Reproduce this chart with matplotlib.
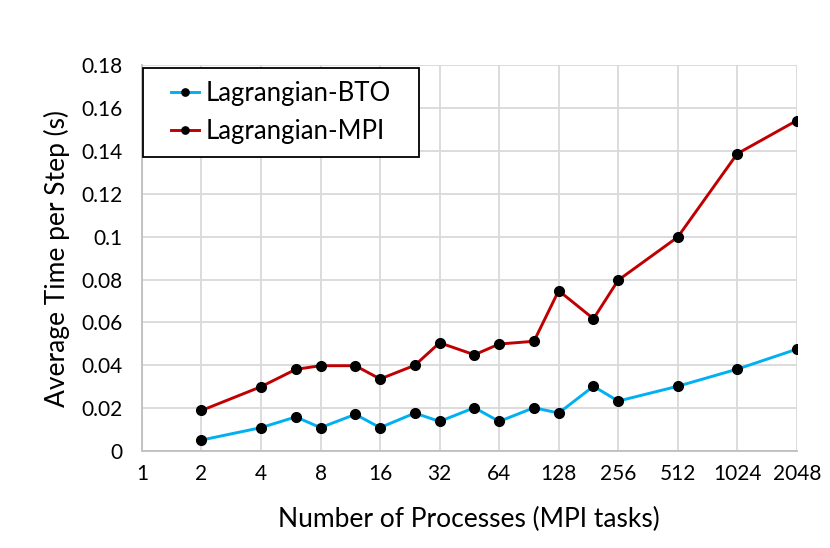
import matplotlib.pyplot as plt
from matplotlib.patches import Rectangle

plt.rcParams['font.family'] = ['Lato', 'DejaVu Sans']

# number of processes and average time per step (s)
procs = [2, 4, 6, 8, 12, 16, 24, 32, 48, 64, 96, 128, 192, 256, 512, 1024, 2048]
bto = [0.0051, 0.0109, 0.0159, 0.0109, 0.0171, 0.0109, 0.0177, 0.0138, 0.0202,
       0.0138, 0.0202, 0.0177, 0.0302, 0.0233, 0.0302, 0.0382, 0.0475]
mpi = [0.0189, 0.0300, 0.0381, 0.0398, 0.0398, 0.0336, 0.0400, 0.0505, 0.0449,
       0.0499, 0.0512, 0.0748, 0.0617, 0.0797, 0.0998, 0.1387, 0.1542]
xticks = [1, 2, 4, 8, 16, 32, 64, 128, 256, 512, 1024, 2048]
yticks = [0, 0.02, 0.04, 0.06, 0.08, 0.1, 0.12, 0.14, 0.16, 0.18]

fig = plt.figure(figsize=(8.3, 5.48), dpi=100)
ax = fig.add_axes([0.171, 0.177, 0.789, 0.704])

ax.plot(procs, bto, color='#00b0f0', lw=2.1, marker='o', ms=7,
        mfc='black', mec='black', label='Lagrangian-BTO', zorder=3)
ax.plot(procs, mpi, color='#c00000', lw=2.1, marker='o', ms=7,
        mfc='black', mec='black', label='Lagrangian-MPI', zorder=3)

ax.set_xscale('log', base=2)
ax.set_xlim(1, 2048)
ax.set_ylim(0, 0.18)
ax.set_xticks(xticks)
ax.set_xticklabels([str(x) for x in xticks])
ax.minorticks_off()
ax.set_yticks(yticks)
ax.set_yticklabels(['0', '0.02', '0.04', '0.06', '0.08', '0.1', '0.12',
                    '0.14', '0.16', '0.18'])
ax.tick_params(length=0, labelsize=15)
ax.tick_params(axis='x', pad=9)
ax.tick_params(axis='y', pad=14)

ax.grid(True, color='#d9d9d9', lw=1.3)
ax.set_axisbelow(True)
for s in ['top', 'right']:
    ax.spines[s].set_visible(False)
for s in ['left', 'bottom']:
    ax.spines[s].set_color('#bfbfbf')
    ax.spines[s].set_linewidth(1.3)

ax.set_xlabel('Number of Processes (MPI tasks)', fontsize=19, labelpad=17)
ax.set_ylabel('Average Time per Step (s)', fontsize=19, labelpad=8)

# legend box drawn separately so it can be wider than the entries
box = Rectangle((0.0015, 0.762), 0.421, 0.230, transform=ax.transAxes,
                facecolor='white', edgecolor='black', lw=1.3, zorder=4)
ax.add_patch(box)
leg = ax.legend(loc='center', bbox_to_anchor=(0.212, 0.877), fontsize=18.5,
                frameon=False, handlelength=1.1, handletextpad=0.25,
                labelspacing=0.5, markerscale=0.75)
leg.set_zorder(5)

fig.savefig('out.png', dpi=100)
